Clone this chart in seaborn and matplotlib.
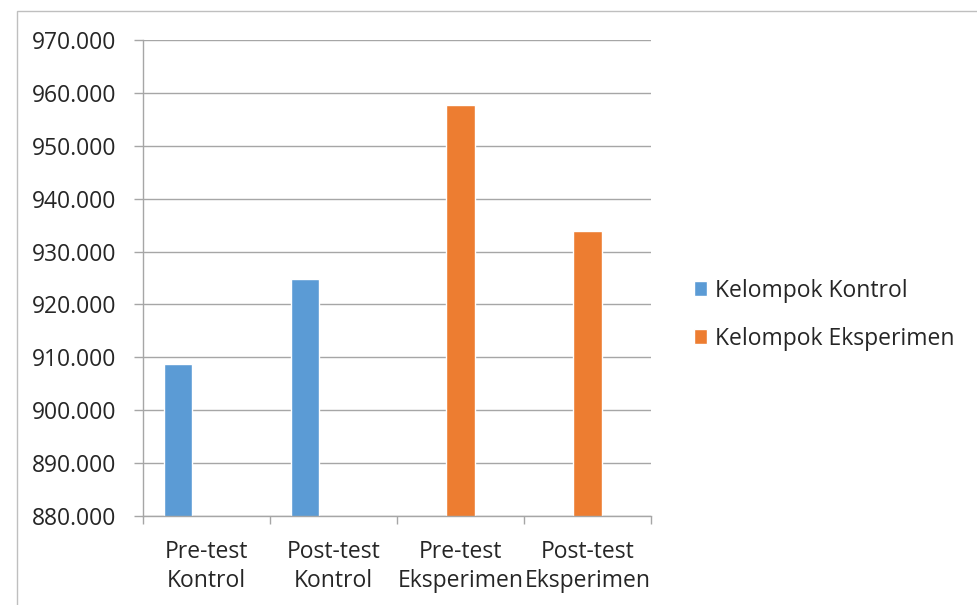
import seaborn as sns
import pandas as pd
import matplotlib.pyplot as plt
from matplotlib.patches import Rectangle
from matplotlib.ticker import FixedLocator, FormatStrFormatter

kategori = ['Pre-test\nKontrol', 'Post-test\nKontrol', 'Pre-test\nEksperimen', 'Post-test\nEksperimen']
kelompok = ['Kelompok Kontrol', 'Kelompok Kontrol', 'Kelompok Eksperimen', 'Kelompok Eksperimen']
nilai = [908.8, 924.9, 957.7, 933.8]
warna = ['#5B9BD5', '#ED7D31']

df = pd.DataFrame({'kategori': kategori, 'kelompok': kelompok, 'nilai': nilai})

sns.set_style('white')
plt.rcParams['font.family'] = ['Open Sans', 'DejaVu Sans']
fs = 16.5

fig = plt.figure(figsize=(9.77, 6.05), dpi=100)
ax = fig.add_axes([0.1464, 0.1471, 0.5199, 0.7868])

sns.barplot(data=df, x='kategori', y='nilai', hue='kelompok',
            hue_order=['Kelompok Kontrol', 'Kelompok Eksperimen'],
            palette=warna, width=0.448, gap=0, dodge=True, ax=ax,
            saturation=1, errorbar=None)

# excel layout: blue bar left of centre, orange bar centred
for p in ax.patches:
    p.set_x(p.get_x() - 0.112)

ax.set_ylim(880, 970)
ax.set_xlim(-0.5, 3.5)
ax.set_yticks(range(880, 971, 10))
ax.yaxis.set_major_formatter(FormatStrFormatter('%.3f'))
ax.grid(axis='y', color='#a6a6a6', lw=1)
ax.set_axisbelow(True)
ax.set_xlabel('')
ax.set_ylabel('')

for s in ['top', 'right']:
    ax.spines[s].set_visible(False)
for s in ['left', 'bottom']:
    ax.spines[s].set_color('#a6a6a6')
    ax.spines[s].set_linewidth(1)

ax.tick_params(axis='y', which='major', length=6.5, width=1, color='#a6a6a6',
               pad=13, labelsize=fs, left=True)
ax.tick_params(axis='x', which='major', length=0, pad=17, labelsize=fs)
ax.xaxis.set_minor_locator(FixedLocator([-0.5, 0.5, 1.5, 2.5, 3.5]))
ax.tick_params(axis='x', which='minor', length=6, width=1, color='#a6a6a6', bottom=True)
for t in ax.get_xticklabels():
    t.set_linespacing(1.3)

ax.legend(loc='center left', bbox_to_anchor=(0.710, 0.480), bbox_transform=fig.transFigure,
          frameon=False, fontsize=fs, handlelength=0.6, handleheight=0.6,
          handletextpad=0.35, labelspacing=1.05, borderpad=0, borderaxespad=0)

fig.patches.append(Rectangle((17 / 977, -0.01), 1.0, 1 - 11 / 605 + 0.01, transform=fig.transFigure,
                             fill=False, edgecolor='#bfbfbf', lw=1))

fig.savefig('out.png', dpi=100)
